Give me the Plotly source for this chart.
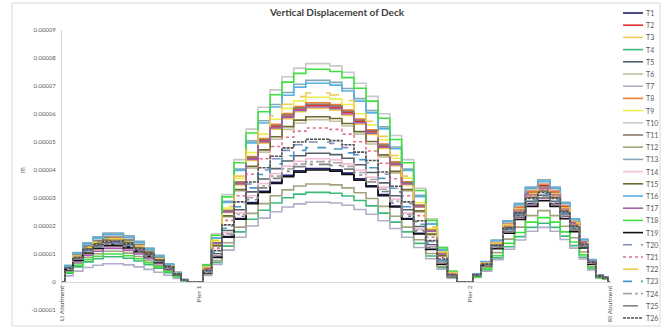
import plotly.graph_objects as go

# chainage along deck (m)
CHAINAGE = [0, 1.1, 2.9, 4.7, 6.6, 8.4, 10.2, 12.2, 14.1, 15.9, 17.7, 19.5, 21.2, 22.3, 23.5, 25.0,
            26.5, 28.1, 30.3, 32.5, 34.7, 36.9, 39.1, 41.2, 43.4, 45.6, 47.8, 50.0, 52.2, 54.4, 56.6, 58.8,
            60.9, 63.1, 65.3, 67.5, 69.5, 71.2, 73.0, 74.5,
            75.5, 77.4, 79.4, 81.6, 83.6, 85.6, 88.1, 90.1, 91.8, 93.6, 95.3, 96.7, 98.2, 99.3, 100.0]

SUPPORT_POS = [0, 25.0, 74.5, 100.0]
SUPPORT_LABELS = ["Lt Abutment", "Pier 1", "Pier 2", "Rt Abutment"]

Y_TICKS = [-0.00001, 0, 0.00001, 0.00002, 0.00003, 0.00004, 0.00005, 0.00006, 0.00007, 0.00008, 0.00009]
Y_TICKTEXT = ["-0.00001", "0", "0.00001", "0.00002", "0.00003", "0.00004", "0.00005", "0.00006",
              "0.00007", "0.00008", "0.00009"]

# vertical displacement values, micrometres
T1 = [0, 4.6, 8.1, 10.8, 12.4, 13.5, 13.5, 12.7, 11.2, 9.3, 7.3, 5.0, 2.7, 0.7, 0, 0,
      3.2, 8.9, 16.2, 22.7, 28.4, 32.4, 35.6, 38.1, 39.7, 40.5, 40.5, 40.1, 38.9, 36.9, 34.4, 31.2, 27.1, 22.7, 17.4, 11.7, 6.5, 2.0, 0, 0,
      2.4, 6.0, 12.3, 18.0, 23.1, 27.9, 30.0, 27.9, 23.4, 18.6, 12.6, 6.6, 2.1, 1.5, 0]
T2 = [0, 5.4, 9.6, 12.8, 14.7, 16, 16, 15.0, 13.3, 11.0, 8.6, 5.9, 3.2, 0.8, 0, 0,
      5.0, 13.9, 25.2, 35.3, 44.1, 50.4, 55.4, 59.2, 61.7, 63, 63, 62.4, 60.5, 57.3, 53.6, 48.5, 42.2, 35.3, 27.1, 18.3, 10.1, 3.2, 0, 0,
      2.8, 6.9, 14.1, 20.7, 26.6, 32.1, 34.5, 32.1, 26.9, 21.4, 14.5, 7.6, 2.4, 1.7, 0]
T3 = [0, 5.6, 9.9, 13.2, 15.2, 16.5, 16.5, 15.5, 13.7, 11.4, 8.9, 6.1, 3.3, 0.8, 0, 0,
      5.0, 13.6, 24.8, 34.7, 43.4, 49.6, 54.6, 58.3, 60.8, 62, 62, 61.4, 59.5, 56.4, 52.7, 47.7, 41.5, 34.7, 26.7, 18.0, 9.9, 3.1, 0, 0,
      2.7, 6.8, 13.9, 20.4, 26.2, 31.6, 34, 31.6, 26.5, 21.1, 14.3, 7.5, 2.4, 1.7, 0]
T4 = [0, 3.1, 5.4, 7.2, 8.3, 9, 9, 8.5, 7.5, 6.2, 4.9, 3.3, 1.8, 0.5, 0, 0,
      2.6, 7.0, 12.8, 17.9, 22.4, 25.6, 28.2, 30.1, 31.4, 32, 32, 31.7, 30.7, 29.1, 27.2, 24.6, 21.4, 17.9, 13.8, 9.3, 5.1, 1.6, 0, 0,
      1.7, 4.2, 8.6, 12.6, 16.2, 19.5, 21, 19.5, 16.4, 13.0, 8.8, 4.6, 1.5, 1.1, 0]
T5 = [0, 4.8, 8.4, 11.2, 12.9, 14, 14, 13.2, 11.6, 9.7, 7.6, 5.2, 2.8, 0.7, 0, 0,
      3.7, 10.1, 18.4, 25.8, 32.2, 36.8, 40.5, 43.2, 45.1, 46, 46, 45.5, 44.2, 41.9, 39.1, 35.4, 30.8, 25.8, 19.8, 13.3, 7.4, 2.3, 0, 0,
      2.5, 6.2, 12.7, 18.6, 23.9, 28.8, 31, 28.8, 24.2, 19.2, 13.0, 6.8, 2.2, 1.6, 0]
T6 = [0, 5.3, 9.3, 12.4, 14.3, 15.5, 15.5, 14.6, 12.9, 10.7, 8.4, 5.7, 3.1, 0.8, 0, 0,
      4.6, 12.8, 23.2, 32.5, 40.6, 46.4, 51.0, 54.5, 56.8, 58, 58, 57.4, 55.7, 52.8, 49.3, 44.7, 38.9, 32.5, 24.9, 16.8, 9.3, 2.9, 0, 0,
      2.6, 6.6, 13.5, 19.8, 25.4, 30.7, 33, 30.7, 25.7, 20.5, 13.9, 7.3, 2.3, 1.7, 0]
T7 = [0, 2.2, 3.9, 5.2, 6.0, 6.5, 6.5, 6.1, 5.4, 4.5, 3.5, 2.4, 1.3, 0.3, 0, 0,
      2.3, 6.3, 11.4, 16.0, 20.0, 22.8, 25.1, 26.8, 27.9, 28.5, 28.5, 28.2, 27.4, 25.9, 24.2, 21.9, 19.1, 16.0, 12.3, 8.3, 4.6, 1.4, 0, 0,
      1.6, 3.9, 8.0, 11.7, 15.0, 18.1, 19.5, 18.1, 15.2, 12.1, 8.2, 4.3, 1.4, 1.0, 0]
T8 = [0, 5.8, 10.2, 13.6, 15.6, 17, 17, 16.0, 14.1, 11.7, 9.2, 6.3, 3.4, 0.9, 0, 0,
      5.1, 14.1, 25.6, 35.8, 44.8, 51.2, 56.3, 60.2, 62.7, 64, 64, 63.4, 61.4, 58.2, 54.4, 49.3, 42.9, 35.8, 27.5, 18.6, 10.2, 3.2, 0, 0,
      2.8, 7.0, 14.4, 21.0, 27.0, 32.6, 35, 32.6, 27.3, 21.7, 14.7, 7.7, 2.5, 1.8, 0]
T9 = [0, 5.1, 9.0, 12.0, 13.8, 15, 15, 14.1, 12.5, 10.4, 8.1, 5.6, 3.0, 0.8, 0, 0,
      5.3, 14.5, 26.4, 37.0, 46.2, 52.8, 58.1, 62.0, 64.7, 66, 66, 65.3, 63.4, 60.1, 56.1, 50.8, 44.2, 37.0, 28.4, 19.1, 10.6, 3.3, 0, 0,
      2.7, 6.7, 13.7, 20.1, 25.8, 31.2, 33.5, 31.2, 26.1, 20.8, 14.1, 7.4, 2.3, 1.7, 0]
T10 = [0, 5.6, 9.9, 13.2, 15.2, 16.5, 16.5, 15.5, 13.7, 11.4, 8.9, 6.1, 3.3, 0.8, 0, 0,
       6.2, 17.2, 31.2, 43.7, 54.6, 62.4, 68.6, 73.3, 76.4, 78, 78, 77.2, 74.9, 71.0, 66.3, 60.1, 52.3, 43.7, 33.5, 22.6, 12.5, 3.9, 0, 0,
       2.8, 7.1, 14.6, 21.3, 27.3, 33.0, 35.5, 33.0, 27.7, 22.0, 14.9, 7.8, 2.5, 1.8, 0]
T11 = [0, 5.4, 9.6, 12.8, 14.7, 16, 16, 15.0, 13.3, 11.0, 8.6, 5.9, 3.2, 0.8, 0, 0,
       5.1, 14.0, 25.4, 35.6, 44.5, 50.8, 55.9, 59.7, 62.2, 63.5, 63.5, 62.9, 61.0, 57.8, 54.0, 48.9, 42.5, 35.6, 27.3, 18.4, 10.2, 3.2, 0, 0,
       2.7, 6.8, 13.9, 20.4, 26.2, 31.6, 34, 31.6, 26.5, 21.1, 14.3, 7.5, 2.4, 1.7, 0]
T12 = [0, 3.7, 6.6, 8.8, 10.1, 11, 11, 10.3, 9.1, 7.6, 5.9, 4.1, 2.2, 0.6, 0, 0,
       2.8, 7.7, 14.0, 19.6, 24.5, 28.0, 30.8, 32.9, 34.3, 35, 35, 34.7, 33.6, 31.9, 29.8, 27.0, 23.5, 19.6, 15.1, 10.2, 5.6, 1.8, 0, 0,
       2.0, 5.1, 10.5, 15.3, 19.6, 23.7, 25.5, 23.7, 19.9, 15.8, 10.7, 5.6, 1.8, 1.3, 0]
T13 = [0, 6.0, 10.5, 14.0, 16.1, 17.5, 17.5, 16.5, 14.5, 12.1, 9.5, 6.5, 3.5, 0.9, 0, 0,
       5.8, 15.8, 28.8, 40.3, 50.4, 57.6, 63.4, 67.7, 70.6, 72, 72, 71.3, 69.1, 65.5, 61.2, 55.4, 48.2, 40.3, 31.0, 20.9, 11.5, 3.6, 0, 0,
       2.9, 7.3, 15.0, 21.9, 28.1, 33.9, 36.5, 33.9, 28.5, 22.6, 15.3, 8.0, 2.6, 1.8, 0]
T14 = [0, 4.3, 7.5, 10.0, 11.5, 12.5, 12.5, 11.8, 10.4, 8.6, 6.8, 4.6, 2.5, 0.6, 0, 0,
       3.5, 9.7, 17.6, 24.6, 30.8, 35.2, 38.7, 41.4, 43.1, 44, 44, 43.6, 42.2, 40.0, 37.4, 33.9, 29.5, 24.6, 18.9, 12.8, 7.0, 2.2, 0, 0,
       2.4, 5.9, 12.1, 17.7, 22.7, 27.4, 29.5, 27.4, 23.0, 18.3, 12.4, 6.5, 2.1, 1.5, 0]
T15 = [0, 5.1, 9.0, 12.0, 13.8, 15, 15, 14.1, 12.5, 10.4, 8.1, 5.6, 3.0, 0.8, 0, 0,
       4.7, 13.0, 23.6, 33.0, 41.3, 47.2, 51.9, 55.5, 57.8, 59, 59, 58.4, 56.6, 53.7, 50.2, 45.4, 39.5, 33.0, 25.4, 17.1, 9.4, 3.0, 0, 0,
       2.6, 6.5, 13.3, 19.5, 25.0, 30.2, 32.5, 30.2, 25.4, 20.2, 13.7, 7.2, 2.3, 1.6, 0]
T16 = [0, 5.8, 10.2, 13.6, 15.6, 17, 17, 16.0, 14.1, 11.7, 9.2, 6.3, 3.4, 0.9, 0, 0,
       5.7, 15.6, 28.4, 39.8, 49.7, 56.8, 62.5, 66.7, 69.6, 71, 71, 70.3, 68.2, 64.6, 60.4, 54.7, 47.6, 39.8, 30.5, 20.6, 11.4, 3.6, 0, 0,
       2.9, 7.2, 14.8, 21.6, 27.7, 33.5, 36, 33.5, 28.1, 22.3, 15.1, 7.9, 2.5, 1.8, 0]
T17 = [0, 4.1, 7.2, 9.6, 11.0, 12, 12, 11.3, 10.0, 8.3, 6.5, 4.4, 2.4, 0.6, 0, 0,
       5.0, 13.8, 25.0, 35.0, 43.8, 50.0, 55.0, 58.8, 61.3, 62.5, 62.5, 61.9, 60.0, 56.9, 53.1, 48.1, 41.9, 35.0, 26.9, 18.1, 10.0, 3.1, 0, 0,
       2.7, 6.7, 13.7, 20.1, 25.8, 31.2, 33.5, 31.2, 26.1, 20.8, 14.1, 7.4, 2.3, 1.7, 0]
T18 = [0, 3.4, 6.0, 8.0, 9.2, 10, 10, 9.4, 8.3, 6.9, 5.4, 3.7, 2.0, 0.5, 0, 0,
       6.1, 16.7, 30.4, 42.6, 53.2, 60.8, 66.9, 71.4, 74.5, 76, 76, 75.2, 73.0, 69.2, 64.6, 58.5, 50.9, 42.6, 32.7, 22.0, 12.2, 3.8, 0, 0,
       1.8, 4.6, 9.4, 13.8, 17.7, 21.4, 23, 21.4, 17.9, 14.3, 9.7, 5.1, 1.6, 1.2, 0]
T19 = [0, 4.4, 7.8, 10.4, 12.0, 13, 13, 12.2, 10.8, 9.0, 7.0, 4.8, 2.6, 0.7, 0, 0,
       3.2, 8.8, 16.0, 22.4, 28.0, 32.0, 35.2, 37.6, 39.2, 40, 40, 39.6, 38.4, 36.4, 34.0, 30.8, 26.8, 22.4, 17.2, 11.6, 6.4, 2.0, 0, 0,
       2.3, 5.8, 11.9, 17.4, 22.3, 27.0, 29, 27.0, 22.6, 18.0, 12.2, 6.4, 2.0, 1.5, 0]
T20 = [0, 4.9, 8.7, 11.6, 13.3, 14.5, 14.5, 13.6, 12.0, 10.0, 7.8, 5.4, 2.9, 0.7, 0, 0,
       4.0, 11.0, 20.0, 28.0, 35.0, 40.0, 44.0, 47.0, 49.0, 50, 50, 49.5, 48.0, 45.5, 42.5, 38.5, 33.5, 28.0, 21.5, 14.5, 8.0, 2.5, 0, 0,
       2.6, 6.4, 13.1, 19.2, 24.6, 29.8, 32, 29.8, 25.0, 19.8, 13.4, 7.0, 2.2, 1.6, 0]
T21 = [0, 4.9, 8.7, 11.6, 13.3, 14.5, 14.5, 13.6, 12.0, 10.0, 7.8, 5.4, 2.9, 0.7, 0, 0,
       4.4, 12.1, 22.0, 30.8, 38.5, 44.0, 48.4, 51.7, 53.9, 55, 55, 54.5, 52.8, 50.1, 46.8, 42.4, 36.9, 30.8, 23.7, 16.0, 8.8, 2.8, 0, 0,
       2.6, 6.6, 13.5, 19.8, 25.4, 30.7, 33, 30.7, 25.7, 20.5, 13.9, 7.3, 2.3, 1.7, 0]
T22 = [0, 5.3, 9.3, 12.4, 14.3, 15.5, 15.5, 14.6, 12.9, 10.7, 8.4, 5.7, 3.1, 0.8, 0, 0,
       5.4, 14.9, 27.0, 37.8, 47.3, 54.0, 59.4, 63.5, 66.2, 67.5, 67.5, 66.8, 64.8, 61.4, 57.4, 52.0, 45.2, 37.8, 29.0, 19.6, 10.8, 3.4, 0, 0,
       2.7, 6.8, 13.9, 20.4, 26.2, 31.6, 34, 31.6, 26.5, 21.1, 14.3, 7.5, 2.4, 1.7, 0]
T23 = [0, 4.8, 8.4, 11.2, 12.9, 14, 14, 13.2, 11.6, 9.7, 7.6, 5.2, 2.8, 0.7, 0, 0,
       3.8, 10.6, 19.2, 26.9, 33.6, 38.4, 42.2, 45.1, 47.0, 48, 48, 47.5, 46.1, 43.7, 40.8, 37.0, 32.2, 26.9, 20.6, 13.9, 7.7, 2.4, 0, 0,
       2.5, 6.3, 12.9, 18.9, 24.3, 29.3, 31.5, 29.3, 24.6, 19.5, 13.2, 6.9, 2.2, 1.6, 0]
T24 = [0, 4.6, 8.1, 10.8, 12.4, 13.5, 13.5, 12.7, 11.2, 9.3, 7.3, 5.0, 2.7, 0.7, 0, 0,
       3.4, 9.5, 17.2, 24.1, 30.1, 34.4, 37.8, 40.4, 42.1, 43, 43, 42.6, 41.3, 39.1, 36.6, 33.1, 28.8, 24.1, 18.5, 12.5, 6.9, 2.2, 0, 0,
       2.4, 6.1, 12.5, 18.3, 23.5, 28.4, 30.5, 28.4, 23.8, 18.9, 12.8, 6.7, 2.1, 1.5, 0]
T25 = [0, 4.6, 8.1, 10.8, 12.4, 13.5, 13.5, 12.7, 11.2, 9.3, 7.3, 5.0, 2.7, 0.7, 0, 0,
       3.4, 9.2, 16.8, 23.5, 29.4, 33.6, 37.0, 39.5, 41.2, 42, 42, 41.6, 40.3, 38.2, 35.7, 32.3, 28.1, 23.5, 18.1, 12.2, 6.7, 2.1, 0, 0,
       2.4, 6.0, 12.3, 18.0, 23.1, 27.9, 30.0, 27.9, 23.4, 18.6, 12.6, 6.6, 2.1, 1.5, 0]
T26 = [0, 4.9, 8.7, 11.6, 13.3, 14.5, 14.5, 13.6, 12.0, 10.0, 7.8, 5.4, 2.9, 0.7, 0, 0,
       4.1, 11.2, 20.4, 28.6, 35.7, 40.8, 44.9, 47.9, 50.0, 51, 51, 50.5, 49.0, 46.4, 43.4, 39.3, 34.2, 28.6, 21.9, 14.8, 8.2, 2.6, 0, 0,
       2.6, 6.4, 13.1, 19.2, 24.6, 29.8, 32, 29.8, 25.0, 19.8, 13.4, 7.0, 2.2, 1.6, 0]

SERIES = [T1, T2, T3, T4, T5, T6, T7, T8, T9, T10, T11, T12, T13,
          T14, T15, T16, T17, T18, T19, T20, T21, T22, T23, T24, T25, T26]
NAMES = ["T%d" % (i + 1) for i in range(26)]
COLORS = ["#1F1F6F", "#E03030", "#F2CC50", "#3CB878", "#56606C", "#C4C0A0", "#B0AEC8",
          "#F08030", "#EEEE50", "#C8C8C8", "#8C7A6A", "#A2A27E", "#80AABA", "#F4BCD6",
          "#6E6A30", "#58B0E0", "#A060A8", "#40E040", "#101010", "#8090B8", "#E07088",
          "#F0C850", "#4898C8", "#A8A8A8", "#808080", "#505050"]
DASHES = ["solid"] * 19 + ["dash", "dot", "longdash", "dash", "dashdot", "longdashdot", "3px,1px"]

M_TO_UM = 1e-6

fig = go.Figure()
for name, vals, col, dsh in zip(NAMES, SERIES, COLORS, DASHES):
    assert len(vals) == len(CHAINAGE), name
    fig.add_trace(go.Scatter(
        x=CHAINAGE, y=[v * M_TO_UM for v in vals], name=name, mode="lines",
        line=dict(color=col, width=1.6, dash=dsh, shape="hvh"),
        showlegend=False, hoverinfo="skip"))

# plot-area geometry (px) for manual legend / decorations
W, H = 661, 327
ML, MR, MT, MB = 62, 49, 30, 17
PW, PH = W - ML - MR, H - MT - MB

def px_x(px):
    return (px - ML) / PW

def px_y(py):
    return (H - MB - py) / PH

shapes = []
annotations = []
# chart area border
shapes.append(dict(type="rect", xref="paper", yref="paper",
                   x0=px_x(12), x1=px_x(660), y0=px_y(326), y1=px_y(3),
                   line=dict(color="#D9D9D9", width=1), fillcolor="rgba(0,0,0,0)", layer="below"))
# manual legend
for i, (name, col, dsh) in enumerate(zip(NAMES, COLORS, DASHES)):
    yy = 13 + i * 12.2
    shapes.append(dict(type="line", xref="paper", yref="paper",
                       x0=px_x(623), x1=px_x(643), y0=px_y(yy), y1=px_y(yy),
                       line=dict(color=col, width=1.6, dash=dsh)))
    annotations.append(dict(x=px_x(644), y=px_y(yy), xref="paper", yref="paper",
                            text=name, showarrow=False, xanchor="left", yanchor="middle",
                            font=dict(size=7, color="#595959")))
# y-axis title
annotations.append(dict(x=px_x(22), y=px_y(170), xref="paper", yref="paper", text="m",
                        textangle=-90, showarrow=False, xanchor="center",
                        font=dict(size=7, color="#595959")))

fig.update_layout(
    width=W, height=H, autosize=False,
    margin=dict(l=ML, r=MR, t=MT, b=MB, pad=0),
    paper_bgcolor="white", plot_bgcolor="white",
    font=dict(family="Lato, Open Sans, sans-serif", color="#595959"),
    title=dict(text="<b>Vertical Displacement of Deck</b>", x=0.5, xref="paper",
               y=1 - 12 / H, yref="container", xanchor="center", yanchor="middle",
               font=dict(size=10, color="#404040")),
    showlegend=False,
    shapes=shapes, annotations=annotations,
    xaxis=dict(range=[0, 100.4], showgrid=False, zeroline=False, showline=True,
               linecolor="#D9D9D9", linewidth=1, anchor="free", position=0.1,
               tickvals=SUPPORT_POS, ticktext=SUPPORT_LABELS, tickangle=-90, ticks="",
               tickfont=dict(size=6.5, color="#595959"), automargin=False),
    yaxis=dict(range=[-0.00001, 0.00009], showgrid=False, zeroline=False, showline=True,
               linecolor="#D9D9D9", linewidth=1, tickvals=Y_TICKS, ticktext=Y_TICKTEXT,
               ticks="", ticklabelstandoff=4, tickfont=dict(size=6, color="#595959"),
               automargin=False),
)

fig.write_html("out.html", config={"displayModeBar": False},
               post_script="document.body.style.margin='0px';document.body.style.overflow='hidden';")
